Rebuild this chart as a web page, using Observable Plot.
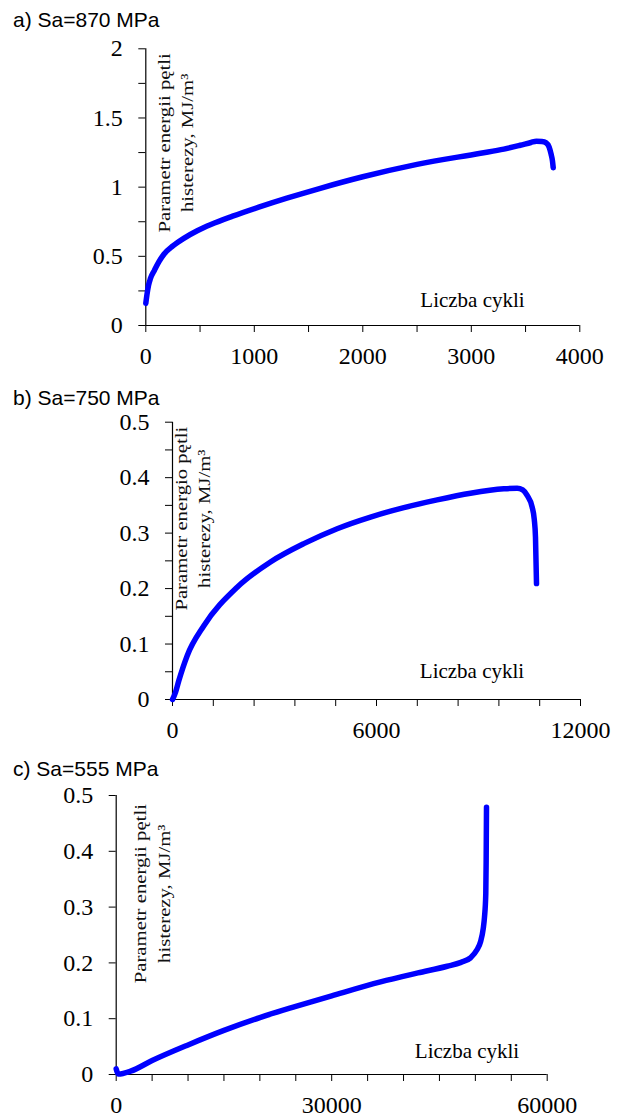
<!DOCTYPE html>
<html>
<head>
<meta charset="utf-8">
<script src="https://cdn.jsdelivr.net/npm/d3@7"></script>
<script src="https://cdn.jsdelivr.net/npm/@observablehq/plot@0.6"></script>
<style>
  html, body { margin: 0; padding: 0; background: #fff; }
  #root { position: relative; width: 621px; height: 1117px; overflow: hidden; }
  .ttl { position: absolute; left: 13px; font-family: "Liberation Sans", Arial, sans-serif; font-size: 21px; line-height: 24px; color: #000; white-space: nowrap; }
  .pnl { position: absolute; left: 0; }
</style>
</head>
<body>
<div id="root"></div>
<script>
// ---------- data ----------
const titles = ["a) Sa=870 MPa", "b) Sa=750 MPa", "c) Sa=555 MPa"];
const xAxisLabel = "Liczba cykli";
const yAxisLabels = [
  "Parametr energii pętli\nhisterezy, MJ/m³",
  "Parametr energio pętli\nhisterezy, MJ/m³",
  "Parametr energii pętli\nhisterezy, MJ/m³"
];

// panel a) Sa = 870 MPa
const aCycles = [0, 10, 25, 43, 80, 120, 167, 250, 350, 474, 600, 800, 1041, 1300, 1600, 2000, 2500, 3085, 3300, 3450, 3550, 3600, 3650, 3690, 3717, 3735, 3748, 3755];
const aEnergy = [0.16, 0.22, 0.29, 0.34, 0.40, 0.46, 0.515, 0.575, 0.63, 0.685, 0.73, 0.79, 0.855, 0.92, 0.99, 1.075, 1.165, 1.245, 1.275, 1.303, 1.323, 1.332, 1.33, 1.32, 1.29, 1.24, 1.19, 1.14];
const aXTicks = [0, 500, 1000, 1500, 2000, 2500, 3000, 3500, 4000];
const aXLabels = [0, 1000, 2000, 3000, 4000];
const aYTicks = [0, 0.25, 0.5, 0.75, 1, 1.25, 1.5, 1.75, 2];
const aYLabels = [0, 0.5, 1, 1.5, 2];

// panel b) Sa = 750 MPa
const bCycles = [0, 88, 186, 432, 922, 1902, 2882, 3862, 4843, 5824, 6804, 7784, 8765, 9745, 10137, 10300, 10431, 10578, 10640, 10676, 10706];
const bEnergy = [0, 0.013, 0.034, 0.079, 0.133, 0.2025, 0.248, 0.281, 0.308, 0.329, 0.346, 0.360, 0.372, 0.380, 0.381, 0.378, 0.368, 0.347, 0.325, 0.293, 0.209];
const bXTicks = [0, 1200, 2400, 3600, 4800, 6000, 7200, 8400, 9600, 10800, 12000];
const bXLabels = [0, 6000, 12000];
const bYTicks = [0, 0.05, 0.1, 0.15, 0.2, 0.25, 0.3, 0.35, 0.4, 0.45, 0.5];
const bYLabels = [0, 0.1, 0.2, 0.3, 0.4, 0.5];

// panel c) Sa = 555 MPa
const cCycles = [0, 300, 2000, 5000, 10000, 15000, 20000, 25000, 30000, 36800, 42000, 46080, 48000, 49320, 50200, 50720, 51100, 51270, 51450, 51500, 51550];
const cEnergy = [0.01, 0.001, 0.006, 0.025, 0.053, 0.079, 0.102, 0.122, 0.141, 0.166, 0.182, 0.194, 0.201, 0.209, 0.223, 0.238, 0.262, 0.282, 0.324, 0.38, 0.479];
const cXTicks = [0, 5000, 10000, 15000, 20000, 25000, 30000, 35000, 40000, 45000, 50000, 55000, 60000];
const cXLabels = [0, 30000, 60000];
const cYTicks = [0, 0.1, 0.2, 0.3, 0.4, 0.5];
const cYLabels = [0, 0.1, 0.2, 0.3, 0.4, 0.5];

// ---------- drawing ----------
const SERIF = '"Liberation Serif", "Times New Roman", serif';
const root = document.getElementById("root");

function panel(cfg) {
  const data = cfg.xs.map((x, i) => ({x, y: cfg.ys[i]}));
  const svg = Plot.plot({
    width: 621,
    height: cfg.height,
    marginLeft: cfg.ml, marginRight: cfg.mr, marginTop: cfg.mt, marginBottom: cfg.mb,
    style: {fontFamily: SERIF, fontSize: "24px", color: "#000", background: "transparent", overflow: "visible"},
    x: {domain: [cfg.xTicks[0], cfg.xTicks[cfg.xTicks.length - 1]], ticks: cfg.xTicks,
        tickFormat: d => cfg.xLabels.includes(d) ? String(d) : "", tickSize: 7, tickPadding: 14, label: null},
    y: {domain: [cfg.yTicks[0], cfg.yTicks[cfg.yTicks.length - 1]], ticks: cfg.yTicks,
        tickFormat: d => cfg.yLabels.includes(d) ? String(d) : "", tickSize: 7, tickPadding: 16, label: null},
    marks: [
      Plot.ruleY([cfg.yTicks[0]], {stroke: "#000", strokeWidth: 1.2}),
      Plot.ruleX([cfg.xTicks[0]], {stroke: "#000", strokeWidth: 1.2}),
      Plot.line(data, {x: "x", y: "y", stroke: "#0000ff", strokeWidth: 5.5, curve: "monotone-x", strokeLinecap: "round", strokeLinejoin: "round"}),
      Plot.text([xAxisLabel], {x: cfg.xl[0], y: cfg.xl[1], text: d => d, fontSize: 21, fontFamily: SERIF, fill: "#000", textAnchor: "middle"}),
      Plot.text([cfg.ylab], {x: cfg.yl[0], y: cfg.yl[1], text: d => d, rotate: -90, fontSize: 17, lineHeight: 1.38, fontFamily: SERIF, fill: "#111", textAnchor: "middle", lineAnchor: "middle"})
    ]
  });
  // stretch the rotated label along its length (as in the original figure)
  d3.select(svg).selectAll("text").filter(function () { return this.textContent.startsWith("Parametr"); })
    .each(function () {
      const t = this.getAttribute("transform");
      if (t) this.setAttribute("transform", t + " scale(1.22,1)");
    });
  svg.classList.add("pnl");
  svg.style.top = cfg.top + "px";
  svg.style.position = "absolute";
  root.appendChild(svg);

  const ttl = document.createElement("div");
  ttl.className = "ttl";
  ttl.textContent = cfg.title;
  ttl.style.top = cfg.titleTop + "px";
  root.appendChild(ttl);
}

panel({title: titles[0], titleTop: 8, top: 35, height: 340, ml: 145.3, mr: 41.7, mt: 13.3, mb: 50,
  xs: aCycles, ys: aEnergy, xTicks: aXTicks, xLabels: aXLabels, yTicks: aYTicks, yLabels: aYLabels,
  xl: [3011, 0.18], yl: [260, 1.32], ylab: yAxisLabels[0]});

panel({title: titles[1], titleTop: 386, top: 410, height: 340, ml: 172, mr: 41, mt: 11.7, mb: 51,
  xs: bCycles, ys: bEnergy, xTicks: bXTicks, xLabels: bXLabels, yTicks: bYTicks, yLabels: bYLabels,
  xl: [8809, 0.0505], yl: [544, 0.326], ylab: yAxisLabels[1]});

panel({title: titles[2], titleTop: 757, top: 782, height: 335, ml: 115.7, mr: 74.3, mt: 13, mb: 43,
  xs: cCycles, ys: cEnergy, xTicks: cXTicks, xLabels: cXLabels, yTicks: cYTicks, yLabels: cYLabels,
  xl: [48838, 0.041], yl: [4775, 0.324], ylab: yAxisLabels[2]});
</script>
</body>
</html>
